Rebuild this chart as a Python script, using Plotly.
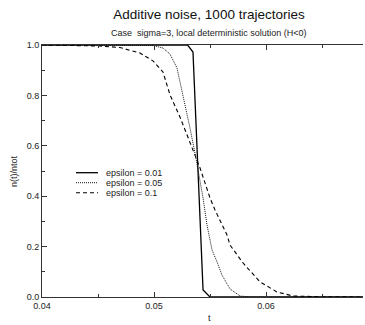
import plotly.graph_objects as go

# ---- data ----
series_names = ["epsilon = 0.01", "epsilon = 0.05", "epsilon = 0.1"]

t_eps001 = [0.0400, 0.0530, 0.05348, 0.05438, 0.0550, 0.0687]
n_eps001 = [1.000, 1.000, 0.972, 0.028, 0.000, 0.000]

t_eps005 = [0.0400, 0.04875, 0.04991, 0.0508, 0.05143, 0.05205, 0.05259, 0.05295,
            0.05321, 0.05366, 0.05411, 0.05438, 0.05473, 0.05518, 0.05563, 0.05607,
            0.05679, 0.05768, 0.05857, 0.0687]
n_eps005 = [1.000, 1.000, 0.998, 0.988, 0.964, 0.909, 0.802, 0.730,
            0.671, 0.571, 0.464, 0.393, 0.286, 0.187, 0.139, 0.087,
            0.032, 0.004, 0.000, 0.000]

t_eps01 = [0.0400, 0.04339, 0.04518, 0.04696, 0.04875, 0.04991, 0.0508, 0.05143,
           0.05232, 0.05348, 0.05411, 0.0550, 0.05545, 0.05652, 0.05679, 0.05795,
           0.05946, 0.06098, 0.06241, 0.06482, 0.0687]
n_eps01 = [1.000, 0.998, 0.996, 0.990, 0.968, 0.937, 0.893, 0.802,
           0.714, 0.583, 0.512, 0.393, 0.345, 0.246, 0.206, 0.135,
           0.060, 0.020, 0.004, 0.001, 0.000]

x_ticks = [0.04, 0.05, 0.06]
y_ticks = [0.0, 0.2, 0.4, 0.6, 0.8, 1.0]

# ---- styles ----
styles = [
    dict(color="#000000", width=1.3, dash="solid"),
    dict(color="#111111", width=1.0, dash="1px,1px"),
    dict(color="#000000", width=1.1, dash="4px,3px"),
]
FONT = "Liberation Sans, Arial, sans-serif"

fig = go.Figure()
for t, n, name, st in zip([t_eps001, t_eps005, t_eps01],
                          [n_eps001, n_eps005, n_eps01], series_names, styles):
    fig.add_trace(go.Scatter(x=t, y=n, mode="lines", name=name, line=st,
                             showlegend=False, hoverinfo="skip"))

W, H = 365, 325
L, R, T, B = 42, 2, 45, 28
pw, ph = W - L - R, H - T - B

# manual compact legend
leg_rows_px = [172.7, 182.7, 192.7]
for name, st, py in zip(series_names, styles, leg_rows_px):
    yp = (H - B - py) / ph
    fig.add_shape(type="line", xref="paper", yref="paper",
                  x0=(76 - L) / pw, x1=(98 - L) / pw, y0=yp, y1=yp,
                  line=st)
    fig.add_annotation(xref="paper", yref="paper", x=(104 - L) / pw, y=yp,
                       text=name, showarrow=False, xanchor="left", yanchor="middle",
                       font=dict(size=9, color="#222", family=FONT))

fig.add_annotation(xref="paper", yref="paper", x=(209 - L) / pw,
                   y=(H - B - 33) / ph, text="Case  sigma=3, local deterministic solution (H<0)",
                   showarrow=False, xanchor="center", yanchor="middle",
                   font=dict(size=9, color="#222", family=FONT))
fig.add_annotation(xref="paper", yref="paper", x=(14 - L) / pw, y=0.5,
                   text="n(t)/ntot", textangle=-90, showarrow=False,
                   xanchor="center", yanchor="middle",
                   font=dict(size=9, color="#222", family=FONT))
fig.add_annotation(xref="paper", yref="paper", x=(210 - L) / pw,
                   y=-(318 - (H - B)) / ph, text="t", showarrow=False,
                   xanchor="center", yanchor="middle",
                   font=dict(size=9, color="#222", family=FONT))

fig.update_layout(
    width=W, height=H,
    margin=dict(l=L, r=R, t=T, b=B),
    paper_bgcolor="white", plot_bgcolor="white",
    font=dict(family=FONT, size=9, color="#222"),
    title=dict(text="Additive noise, 1000 trajectories", x=209 / W, xanchor="center",
               xref="container", yref="container", y=1 - 14 / H, yanchor="middle",
               font=dict(size=13.5, color="#111", family=FONT)),
    showlegend=False,
)
fig.update_xaxes(range=[0.04, 0.04 + pw / 11200], tickvals=x_ticks,
                 ticktext=[f"{v:.2f}" for v in x_ticks],
                 showline=True, linecolor="#333", linewidth=1, mirror="ticks",
                 ticks="inside", ticklen=5, tickcolor="#333",
                 minor=dict(dtick=0.005, tick0=0.04, ticks="inside", ticklen=3, tickcolor="#333"),
                 showgrid=False, zeroline=False, tickfont=dict(size=9))
fig.update_yaxes(range=[0, 1], tickvals=y_ticks,
                 ticktext=[f"{v:.1f}" for v in y_ticks],
                 showline=True, linecolor="#333", linewidth=1, mirror=False,
                 ticks="inside", ticklen=5, tickcolor="#333",
                 minor=dict(dtick=0.1, tick0=0, ticks="inside", ticklen=3, tickcolor="#333"),
                 showgrid=False, zeroline=False, tickfont=dict(size=9))

fig.write_html("out.html")
